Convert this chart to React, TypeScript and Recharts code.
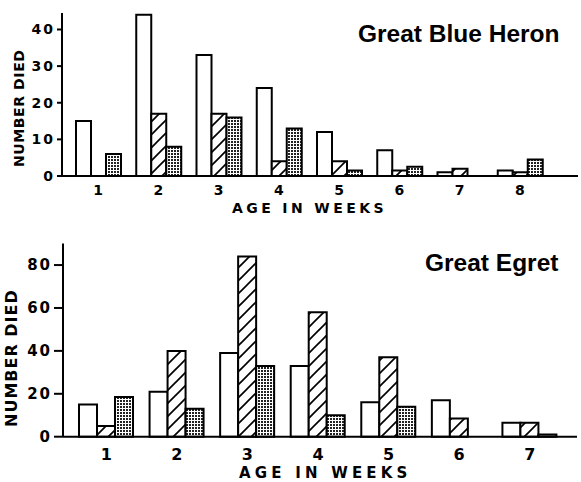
import React from 'react';
import { BarChart, Bar, XAxis, YAxis } from 'recharts';

// ---- Great Blue Heron ----
const heronWeeks = ['1', '2', '3', '4', '5', '6', '7', '8'];
const heronOpen = [15, 44, 33, 24, 12, 7, 1, 1.5];
const heronHatched = [0, 17, 17, 4, 4, 1.5, 2, 1];
const heronDotted = [6, 8, 16, 13, 1.5, 2.5, 0, 4.5];
const heronTicks = [0, 10, 20, 30, 40];

// ---- Great Egret ----
const egretWeeks = ['1', '2', '3', '4', '5', '6', '7'];
const egretOpen = [15, 21, 39, 33, 16, 17, 6.5];
const egretHatched = [5, 40, 84, 58, 37, 8.5, 6.5];
const egretDotted = [18.5, 13, 33, 10, 14, 0, 1];
const egretTicks = [0, 20, 40, 60, 80];

const heronData = heronWeeks.map((w, i) => ({
  week: w,
  open: heronOpen[i],
  hatched: heronHatched[i],
  dotted: heronDotted[i],
}));
const egretData = egretWeeks.map((w, i) => ({
  week: w,
  open: egretOpen[i],
  hatched: egretHatched[i],
  dotted: egretDotted[i],
}));

const FONT = '"DejaVu Sans", sans-serif';

const Patterns = ({ p }: { p: string }) => (
  <defs>
    <pattern id={`hatch-${p}`} patternUnits="userSpaceOnUse" width={13} height={13}>
      <rect width={13} height={13} fill="#fff" />
      <line x1={0} y1={13} x2={13} y2={0} stroke="#000" strokeWidth={1.7} />
      <line x1={-2} y1={2} x2={2} y2={-2} stroke="#000" strokeWidth={1.7} />
      <line x1={11} y1={15} x2={15} y2={11} stroke="#000" strokeWidth={1.7} />
    </pattern>
    <pattern id={`dots-${p}`} patternUnits="userSpaceOnUse" width={3} height={3}>
      <rect width={3} height={3} fill="#fff" />
      <rect x={0} y={0} width={2} height={2} fill="#222" />
    </pattern>
  </defs>
);

export default function App() {
  return (
    <div style={{ position: 'absolute', left: 0, top: 0, width: 581, height: 482, background: '#fff' }}>
      <div style={{ position: 'absolute', left: 0, top: 0 }}>
        <BarChart
          width={581}
          height={220}
          data={heronData}
          margin={{ top: 13, right: 3, bottom: 0, left: 0 }}
          barSize={15}
          barGap={0}
        >
          <Patterns p="a" />
          <XAxis
            dataKey="week"
            height={44}
            padding={{ left: 6, right: 28 }}
            axisLine={{ stroke: '#000', strokeWidth: 2 }}
            tickLine={false}
            tickSize={6}
            tickMargin={3}
            tick={{ fill: '#000', fontFamily: FONT, fontWeight: 'bold', fontSize: 14 }}
          />
          <YAxis
            width={62}
            domain={[0, 44.5]}
            ticks={heronTicks}
            allowDataOverflow
            axisLine={{ stroke: '#000', strokeWidth: 2 }}
            tickLine={{ stroke: '#000', strokeWidth: 2 }}
            tickSize={5}
            tickMargin={2}
            tick={{ fill: '#000', fontFamily: FONT, fontWeight: 'bold', fontSize: 14, letterSpacing: 2 }}
          />
          <Bar dataKey="open" fill="#fff" stroke="#000" strokeWidth={2} isAnimationActive={false} />
          <Bar dataKey="hatched" fill="url(#hatch-a)" stroke="#000" strokeWidth={2} isAnimationActive={false} />
          <Bar dataKey="dotted" fill="url(#dots-a)" stroke="#000" strokeWidth={2} isAnimationActive={false} />
        </BarChart>
      </div>
      <div style={{ position: 'absolute', left: 0, top: 220 }}>
        <BarChart
          width={581}
          height={262}
          data={egretData}
          margin={{ top: 23.6, right: 4, bottom: 0, left: 0 }}
          barSize={18}
          barGap={0}
        >
          <Patterns p="b" />
          <XAxis
            dataKey="week"
            height={45.3}
            padding={{ left: 8, right: 12 }}
            axisLine={{ stroke: '#000', strokeWidth: 2 }}
            tickLine={false}
            tickSize={6}
            tickMargin={6}
            tick={{ fill: '#000', fontFamily: FONT, fontWeight: 'bold', fontSize: 16 }}
          />
          <YAxis
            width={63}
            domain={[0, 90]}
            ticks={egretTicks}
            axisLine={{ stroke: '#000', strokeWidth: 2 }}
            tickLine={{ stroke: '#000', strokeWidth: 2 }}
            tickSize={9}
            tickMargin={2}
            tick={{ fill: '#000', fontFamily: FONT, fontWeight: 'bold', fontSize: 15, letterSpacing: 2 }}
          />
          <Bar dataKey="open" fill="#fff" stroke="#000" strokeWidth={2} isAnimationActive={false} />
          <Bar dataKey="hatched" fill="url(#hatch-b)" stroke="#000" strokeWidth={2} isAnimationActive={false} />
          <Bar dataKey="dotted" fill="url(#dots-b)" stroke="#000" strokeWidth={2} isAnimationActive={false} />
        </BarChart>
      </div>
      <svg
        width={581}
        height={482}
        style={{ position: 'absolute', left: 0, top: 0, pointerEvents: 'none' }}
      >
        <text x={358} y={41.7} fontFamily='"Liberation Sans", Arial, sans-serif' fontWeight="bold" fontSize={24.5} fill="#000">
          Great Blue Heron
        </text>
        <text x={425} y={271} fontFamily='"Liberation Sans", Arial, sans-serif' fontWeight="bold" fontSize={24.5} fill="#000">
          Great Egret
        </text>
        <text x={232} y={213} fontFamily={FONT} fontWeight="bold" fontSize={14} fill="#000" style={{ letterSpacing: 3.4 }}>
          AGE IN WEEKS
        </text>
        <text x={239} y={477.5} fontFamily={FONT} fontWeight="bold" fontSize={15} fill="#000" style={{ letterSpacing: 4.2 }}>
          AGE IN WEEKS
        </text>
        <text
          x={0}
          y={0}
          transform="translate(24,167) rotate(-90)"
          fontFamily={FONT}
          fontWeight="bold"
          fontSize={14}
          fill="#000"
          style={{ letterSpacing: 0.6 }}
        >
          NUMBER DIED
        </text>
        <text
          x={0}
          y={0}
          transform="translate(17,427) rotate(-90)"
          fontFamily={FONT}
          fontWeight="bold"
          fontSize={16}
          fill="#000"
          style={{ letterSpacing: 1 }}
        >
          NUMBER DIED
        </text>
      </svg>
    </div>
  );
}
